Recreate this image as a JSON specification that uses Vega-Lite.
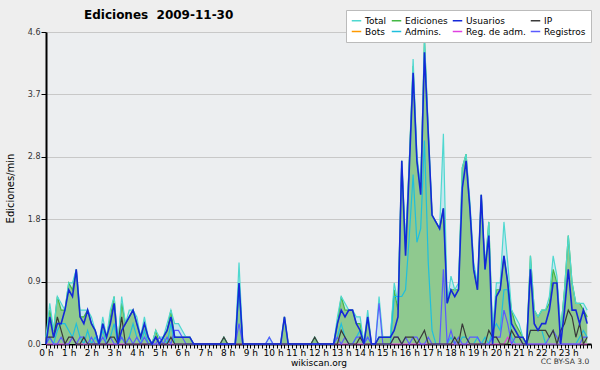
{
  "$schema": "https://vega.github.io/schema/vega-lite/v6.json",
  "width": 545,
  "height": 312,
  "autosize": {"type": "none"},
  "padding": {"left": 46, "top": 32, "right": 9, "bottom": 26},
  "background": "#eeeeee",
  "title": {"text": "Ediciones\u00a0\u00a02009-11-30", "anchor": "start", "frame": "group", "dx": 38, "offset": -12, "fontSize": 12, "font": "DejaVu Sans", "fontWeight": "bold", "color": "#000000"},
  "config": {
    "view": {"fill": "#eceef0", "stroke": null},
    "font": "DejaVu Sans",
    "axis": {"zindex": 1}
  },
  "data": {"values": [
    {"m":0,"T":0.1,"E":0.1,"U":0,"I":0.1,"A":0,"R":0,"RA":0},
    {"m":10,"T":0.6,"E":0.5,"U":0.4,"I":0.1,"A":0.1,"R":0.1,"RA":0},
    {"m":20,"T":0.2,"E":0.2,"U":0.1,"I":0.1,"A":0,"R":0,"RA":0},
    {"m":30,"T":0.7,"E":0.7,"U":0.3,"I":0.4,"A":0.2,"R":0,"RA":0},
    {"m":40,"T":0.6,"E":0.5,"U":0.3,"I":0.2,"A":0.3,"R":0.1,"RA":0},
    {"m":50,"T":0.5,"E":0.5,"U":0.5,"I":0,"A":0.3,"R":0,"RA":0},
    {"m":60,"T":0.9,"E":0.9,"U":0.8,"I":0.1,"A":0.2,"R":0,"RA":0},
    {"m":70,"T":0.9,"E":0.8,"U":0.7,"I":0.1,"A":0.1,"R":0.1,"RA":0.1},
    {"m":80,"T":1.1,"E":1.1,"U":1.1,"I":0,"A":0.3,"R":0,"RA":0},
    {"m":90,"T":0.5,"E":0.4,"U":0.4,"I":0,"A":0.1,"R":0.1,"RA":0},
    {"m":100,"T":0.5,"E":0.4,"U":0.3,"I":0.1,"A":0,"R":0.1,"RA":0},
    {"m":110,"T":0.5,"E":0.5,"U":0.5,"I":0,"A":0.2,"R":0,"RA":0},
    {"m":120,"T":0.4,"E":0.3,"U":0.3,"I":0,"A":0,"R":0.1,"RA":0},
    {"m":130,"T":0.2,"E":0.2,"U":0.2,"I":0,"A":0.1,"R":0,"RA":0},
    {"m":140,"T":0,"E":0,"U":0,"I":0,"A":0,"R":0,"RA":0},
    {"m":150,"T":0.4,"E":0.3,"U":0.3,"I":0,"A":0.2,"R":0.1,"RA":0},
    {"m":160,"T":0.1,"E":0.1,"U":0.1,"I":0,"A":0,"R":0,"RA":0},
    {"m":170,"T":0.5,"E":0.4,"U":0.3,"I":0.1,"A":0.1,"R":0.1,"RA":0},
    {"m":180,"T":0.7,"E":0.7,"U":0.6,"I":0.1,"A":0.3,"R":0,"RA":0},
    {"m":190,"T":0,"E":0,"U":0,"I":0,"A":0,"R":0,"RA":0},
    {"m":200,"T":0.7,"E":0.6,"U":0.2,"I":0.4,"A":0.1,"R":0.1,"RA":0},
    {"m":210,"T":0.3,"E":0.3,"U":0.3,"I":0,"A":0,"R":0,"RA":0},
    {"m":220,"T":0.5,"E":0.4,"U":0.4,"I":0,"A":0.1,"R":0.1,"RA":0},
    {"m":230,"T":0.5,"E":0.5,"U":0.5,"I":0,"A":0.3,"R":0,"RA":0},
    {"m":240,"T":0.4,"E":0.3,"U":0.3,"I":0,"A":0.1,"R":0.1,"RA":0},
    {"m":250,"T":0.1,"E":0.1,"U":0.1,"I":0,"A":0,"R":0,"RA":0},
    {"m":260,"T":0.4,"E":0.3,"U":0.3,"I":0,"A":0.2,"R":0.1,"RA":0},
    {"m":270,"T":0.1,"E":0.1,"U":0.1,"I":0,"A":0,"R":0,"RA":0},
    {"m":280,"T":0,"E":0,"U":0,"I":0,"A":0,"R":0,"RA":0},
    {"m":290,"T":0.2,"E":0.2,"U":0.1,"I":0.1,"A":0,"R":0,"RA":0},
    {"m":300,"T":0.1,"E":0,"U":0,"I":0,"A":0,"R":0.1,"RA":0},
    {"m":310,"T":0.1,"E":0.1,"U":0.1,"I":0,"A":0.1,"R":0,"RA":0},
    {"m":320,"T":0.3,"E":0.2,"U":0.2,"I":0,"A":0,"R":0.1,"RA":0},
    {"m":330,"T":0.5,"E":0.5,"U":0.4,"I":0.1,"A":0.3,"R":0,"RA":0},
    {"m":340,"T":0.3,"E":0.1,"U":0.1,"I":0,"A":0,"R":0.2,"RA":0},
    {"m":350,"T":0.3,"E":0.1,"U":0.1,"I":0,"A":0,"R":0.2,"RA":0},
    {"m":360,"T":0.2,"E":0.1,"U":0.1,"I":0,"A":0,"R":0.1,"RA":0},
    {"m":370,"T":0.1,"E":0.1,"U":0.1,"I":0,"A":0,"R":0,"RA":0},
    {"m":380,"T":0.1,"E":0.1,"U":0.1,"I":0,"A":0,"R":0,"RA":0},
    {"m":390,"T":0,"E":0,"U":0,"I":0,"A":0,"R":0,"RA":0},
    {"m":400,"T":0,"E":0,"U":0,"I":0,"A":0,"R":0,"RA":0},
    {"m":410,"T":0,"E":0,"U":0,"I":0,"A":0,"R":0,"RA":0},
    {"m":420,"T":0,"E":0,"U":0,"I":0,"A":0,"R":0,"RA":0},
    {"m":430,"T":0,"E":0,"U":0,"I":0,"A":0,"R":0,"RA":0},
    {"m":440,"T":0,"E":0,"U":0,"I":0,"A":0,"R":0,"RA":0},
    {"m":450,"T":0,"E":0,"U":0,"I":0,"A":0,"R":0,"RA":0},
    {"m":460,"T":0,"E":0,"U":0,"I":0,"A":0,"R":0,"RA":0},
    {"m":470,"T":0.1,"E":0.1,"U":0,"I":0.1,"A":0,"R":0,"RA":0},
    {"m":480,"T":0,"E":0,"U":0,"I":0,"A":0,"R":0,"RA":0},
    {"m":490,"T":0,"E":0,"U":0,"I":0,"A":0,"R":0,"RA":0},
    {"m":500,"T":0,"E":0,"U":0,"I":0,"A":0,"R":0,"RA":0},
    {"m":510,"T":1.2,"E":0.9,"U":0.9,"I":0,"A":0.8,"R":0.3,"RA":0},
    {"m":520,"T":0,"E":0,"U":0,"I":0,"A":0,"R":0,"RA":0},
    {"m":530,"T":0,"E":0,"U":0,"I":0,"A":0,"R":0,"RA":0},
    {"m":540,"T":0,"E":0,"U":0,"I":0,"A":0,"R":0,"RA":0},
    {"m":550,"T":0,"E":0,"U":0,"I":0,"A":0,"R":0,"RA":0},
    {"m":560,"T":0,"E":0,"U":0,"I":0,"A":0,"R":0,"RA":0},
    {"m":570,"T":0,"E":0,"U":0,"I":0,"A":0,"R":0,"RA":0},
    {"m":580,"T":0,"E":0,"U":0,"I":0,"A":0,"R":0,"RA":0},
    {"m":590,"T":0.1,"E":0,"U":0,"I":0,"A":0,"R":0.1,"RA":0},
    {"m":600,"T":0,"E":0,"U":0,"I":0,"A":0,"R":0,"RA":0},
    {"m":610,"T":0,"E":0,"U":0,"I":0,"A":0,"R":0,"RA":0},
    {"m":620,"T":0,"E":0,"U":0,"I":0,"A":0,"R":0,"RA":0},
    {"m":630,"T":0.4,"E":0.4,"U":0.4,"I":0,"A":0,"R":0,"RA":0},
    {"m":640,"T":0,"E":0,"U":0,"I":0,"A":0,"R":0,"RA":0},
    {"m":650,"T":0,"E":0,"U":0,"I":0,"A":0,"R":0,"RA":0},
    {"m":660,"T":0,"E":0,"U":0,"I":0,"A":0,"R":0,"RA":0},
    {"m":670,"T":0,"E":0,"U":0,"I":0,"A":0,"R":0,"RA":0},
    {"m":680,"T":0,"E":0,"U":0,"I":0,"A":0,"R":0,"RA":0},
    {"m":690,"T":0,"E":0,"U":0,"I":0,"A":0,"R":0,"RA":0},
    {"m":700,"T":0,"E":0,"U":0,"I":0,"A":0,"R":0,"RA":0},
    {"m":710,"T":0.1,"E":0.1,"U":0,"I":0.1,"A":0,"R":0,"RA":0},
    {"m":720,"T":0,"E":0,"U":0,"I":0,"A":0,"R":0,"RA":0},
    {"m":730,"T":0,"E":0,"U":0,"I":0,"A":0,"R":0,"RA":0},
    {"m":740,"T":0,"E":0,"U":0,"I":0,"A":0,"R":0,"RA":0},
    {"m":750,"T":0,"E":0,"U":0,"I":0,"A":0,"R":0,"RA":0},
    {"m":760,"T":0,"E":0,"U":0,"I":0,"A":0,"R":0,"RA":0},
    {"m":770,"T":0.4,"E":0.3,"U":0.3,"I":0,"A":0.1,"R":0.1,"RA":0},
    {"m":780,"T":0.7,"E":0.7,"U":0.5,"I":0.2,"A":0.3,"R":0,"RA":0},
    {"m":790,"T":0.6,"E":0.5,"U":0.4,"I":0.1,"A":0.1,"R":0.1,"RA":0},
    {"m":800,"T":0.5,"E":0.5,"U":0.5,"I":0,"A":0,"R":0,"RA":0},
    {"m":810,"T":0.5,"E":0.5,"U":0.5,"I":0,"A":0,"R":0,"RA":0},
    {"m":820,"T":0.4,"E":0.3,"U":0.3,"I":0,"A":0.1,"R":0.1,"RA":0},
    {"m":830,"T":0.4,"E":0.3,"U":0.2,"I":0.1,"A":0.2,"R":0.1,"RA":0},
    {"m":840,"T":0,"E":0,"U":0,"I":0,"A":0,"R":0,"RA":0},
    {"m":850,"T":0.5,"E":0.4,"U":0.4,"I":0,"A":0.1,"R":0.1,"RA":0},
    {"m":860,"T":0,"E":0,"U":0,"I":0,"A":0,"R":0,"RA":0},
    {"m":870,"T":0,"E":0,"U":0,"I":0,"A":0,"R":0,"RA":0},
    {"m":880,"T":0.7,"E":0.1,"U":0.1,"I":0,"A":0,"R":0.6,"RA":0},
    {"m":890,"T":0.1,"E":0.1,"U":0.1,"I":0,"A":0,"R":0,"RA":0},
    {"m":900,"T":0.1,"E":0.1,"U":0.1,"I":0,"A":0,"R":0,"RA":0},
    {"m":910,"T":0.1,"E":0.1,"U":0.1,"I":0,"A":0,"R":0,"RA":0},
    {"m":920,"T":0.9,"E":0.8,"U":0.2,"I":0.1,"A":0.7,"R":0.1,"RA":0},
    {"m":930,"T":0.6,"E":0.5,"U":0.4,"I":0.1,"A":0.7,"R":0.1,"RA":0},
    {"m":940,"T":2.7,"E":2.7,"U":2.7,"I":0,"A":0.7,"R":0,"RA":0},
    {"m":950,"T":1.5,"E":1.4,"U":1.3,"I":0.1,"A":0.8,"R":0.1,"RA":0},
    {"m":960,"T":2.7,"E":2.7,"U":2.6,"I":0.1,"A":1.6,"R":0,"RA":0},
    {"m":970,"T":4.2,"E":4.1,"U":4.0,"I":0.1,"A":2.5,"R":0.1,"RA":0},
    {"m":980,"T":2.8,"E":2.7,"U":2.7,"I":0,"A":1.5,"R":0.1,"RA":0},
    {"m":990,"T":2.3,"E":2.3,"U":2.2,"I":0.1,"A":1.7,"R":0,"RA":0},
    {"m":1000,"T":4.5,"E":4.5,"U":4.3,"I":0.2,"A":3.0,"R":0,"RA":0},
    {"m":1010,"T":3.2,"E":3.1,"U":3.1,"I":0,"A":1.2,"R":0.1,"RA":0},
    {"m":1020,"T":1.9,"E":1.9,"U":1.9,"I":0,"A":0.2,"R":0,"RA":0},
    {"m":1030,"T":1.8,"E":1.8,"U":1.8,"I":0,"A":0,"R":0,"RA":0},
    {"m":1040,"T":1.7,"E":1.7,"U":1.7,"I":0,"A":0,"R":0,"RA":0},
    {"m":1050,"T":3.1,"E":2.0,"U":2.0,"I":0,"A":0,"R":1.1,"RA":0},
    {"m":1060,"T":0.6,"E":0.6,"U":0.6,"I":0,"A":0,"R":0,"RA":0},
    {"m":1070,"T":1.0,"E":0.8,"U":0.8,"I":0,"A":0.1,"R":0.2,"RA":0},
    {"m":1080,"T":0.8,"E":0.8,"U":0.7,"I":0.1,"A":0,"R":0,"RA":0},
    {"m":1090,"T":0.9,"E":0.8,"U":0.8,"I":0,"A":0,"R":0.1,"RA":0},
    {"m":1100,"T":2.6,"E":2.6,"U":2.3,"I":0.3,"A":0.1,"R":0,"RA":0},
    {"m":1110,"T":2.8,"E":2.8,"U":2.7,"I":0.1,"A":0.1,"R":0,"RA":0},
    {"m":1120,"T":2.1,"E":2.0,"U":2.0,"I":0,"A":0,"R":0.1,"RA":0},
    {"m":1130,"T":1.2,"E":1.1,"U":1.1,"I":0,"A":0,"R":0.1,"RA":0},
    {"m":1140,"T":0.9,"E":0.8,"U":0.8,"I":0,"A":0.1,"R":0.1,"RA":0},
    {"m":1150,"T":2.2,"E":2.2,"U":2.2,"I":0,"A":0,"R":0,"RA":0},
    {"m":1160,"T":1.1,"E":1.1,"U":1.1,"I":0,"A":0.1,"R":0,"RA":0},
    {"m":1170,"T":1.8,"E":1.8,"U":1.6,"I":0.2,"A":0,"R":0,"RA":0},
    {"m":1180,"T":0.2,"E":0.1,"U":0,"I":0.1,"A":0.2,"R":0.1,"RA":0},
    {"m":1190,"T":0.9,"E":0.8,"U":0.7,"I":0.1,"A":0.3,"R":0.1,"RA":0},
    {"m":1200,"T":0.9,"E":0.8,"U":0.8,"I":0,"A":0.2,"R":0.1,"RA":0},
    {"m":1210,"T":1.8,"E":1.3,"U":1.3,"I":0,"A":0.8,"R":0.5,"RA":0},
    {"m":1220,"T":1.2,"E":0.9,"U":0.9,"I":0,"A":0.8,"R":0.3,"RA":0.1},
    {"m":1230,"T":0.5,"E":0.5,"U":0.3,"I":0.2,"A":0.1,"R":0,"RA":0},
    {"m":1240,"T":0.4,"E":0.3,"U":0.2,"I":0.1,"A":0,"R":0.1,"RA":0},
    {"m":1250,"T":0.3,"E":0.2,"U":0.1,"I":0.1,"A":0,"R":0.1,"RA":0},
    {"m":1260,"T":0.1,"E":0.1,"U":0.1,"I":0,"A":0,"R":0,"RA":0},
    {"m":1270,"T":0,"E":0,"U":0,"I":0,"A":0,"R":0,"RA":0},
    {"m":1280,"T":1.3,"E":1.3,"U":1.1,"I":0.2,"A":0.2,"R":0,"RA":0},
    {"m":1290,"T":0.5,"E":0.5,"U":0.3,"I":0.2,"A":0.2,"R":0,"RA":0},
    {"m":1300,"T":0.4,"E":0.4,"U":0.2,"I":0.2,"A":0.2,"R":0,"RA":0},
    {"m":1310,"T":0.5,"E":0.5,"U":0.3,"I":0.2,"A":0.2,"R":0,"RA":0},
    {"m":1320,"T":0.5,"E":0.5,"U":0.3,"I":0.2,"A":0,"R":0,"RA":0},
    {"m":1330,"T":0.7,"E":0.6,"U":0.5,"I":0.1,"A":0,"R":0.1,"RA":0},
    {"m":1340,"T":1.3,"E":1.1,"U":0.9,"I":0.2,"A":0,"R":0.2,"RA":0},
    {"m":1350,"T":1.0,"E":0.9,"U":0.9,"I":0,"A":0,"R":0.1,"RA":0},
    {"m":1360,"T":0.2,"E":0.2,"U":0,"I":0.2,"A":0,"R":0,"RA":0},
    {"m":1370,"T":0.8,"E":0.8,"U":0.5,"I":0.3,"A":0,"R":0,"RA":0},
    {"m":1380,"T":1.6,"E":1.6,"U":1.1,"I":0.5,"A":0,"R":0,"RA":0},
    {"m":1390,"T":0.9,"E":0.9,"U":0.5,"I":0.4,"A":0,"R":0,"RA":0},
    {"m":1400,"T":0.6,"E":0.6,"U":0.5,"I":0.1,"A":0,"R":0,"RA":0},
    {"m":1410,"T":0.6,"E":0.6,"U":0.3,"I":0.3,"A":0.1,"R":0,"RA":0},
    {"m":1420,"T":0.6,"E":0.5,"U":0.5,"I":0,"A":0.2,"R":0.1,"RA":0},
    {"m":1430,"T":0.5,"E":0.4,"U":0.3,"I":0.1,"A":0.1,"R":0.1,"RA":0}
  ]},
  "encoding": {
    "x": {
      "field": "m", "type": "quantitative",
      "scale": {"domain": [0, 1440], "nice": false, "zero": false},
      "axis": {
        "title": "wikiscan.org", "titleFontSize": 9, "titleFontWeight": "normal", "titleColor": "#000000", "titlePadding": 1,
        "values": [0,10,20,30,40,50,60,70,80,90,100,110,120,130,140,150,160,170,180,190,200,210,220,230,240,250,260,270,280,290,300,310,320,330,340,350,360,370,380,390,400,410,420,430,440,450,460,470,480,490,500,510,520,530,540,550,560,570,580,590,600,610,620,630,640,650,660,670,680,690,700,710,720,730,740,750,760,770,780,790,800,810,820,830,840,850,860,870,880,890,900,910,920,930,940,950,960,970,980,990,1000,1010,1020,1030,1040,1050,1060,1070,1080,1090,1100,1110,1120,1130,1140,1150,1160,1170,1180,1190,1200,1210,1220,1230,1240,1250,1260,1270,1280,1290,1300,1310,1320,1330,1340,1350,1360,1370,1380,1390,1400,1410,1420,1430,1440],
        "labelExpr": "datum.value % 60 == 0 && datum.value < 1440 ? (datum.value / 60) + ' h' : ''",
        "labelOverlap": false, "labelFlush": false, "labelFontSize": 9, "labelColor": "#000000", "labelPadding": 0,
        "tickSize": 4, "tickColor": "#000000", "domainColor": "#000000", "domainWidth": 2, "grid": false
      }
    }
  },
  "layer": [
    {
      "mark": {"type": "area", "fill": "#c6e6ee", "interpolate": "linear"},
      "encoding": {
        "y": {
          "field": "T", "type": "quantitative",
          "scale": {"domain": [0, 4.6], "nice": false},
          "axis": {
            "title": "Ediciones/min", "titleFontSize": 10, "titleFontWeight": "normal", "titleColor": "#000000", "titlePadding": 12,
            "values": [0,0.23,0.46,0.69,0.92,1.15,1.38,1.61,1.84,2.07,2.3,2.53,2.76,2.99,3.22,3.45,3.68,3.91,4.14,4.37,4.6],
            "labelExpr": "abs(datum.value / 0.92 - round(datum.value / 0.92)) < 0.01 ? format(datum.value, '.1f') : ''",
            "labelFontSize": 8, "labelColor": "#333333", "labelPadding": 1,
            "tickSize": 5, "tickColor": "#000000", "domainColor": "#000000", "domainWidth": 2,
            "grid": true, "gridColor": "#c8c8c8",
            "gridOpacity": {"condition": {"test": "datum.value > 0.1 && abs(datum.value / 0.92 - round(datum.value / 0.92)) < 0.01", "value": 1}, "value": 0}
          }
        }
      }
    },
    {
      "mark": {"type": "area", "fill": "#8fc98f"},
      "encoding": {"y": {"field": "E", "type": "quantitative"}}
    },
    {
      "mark": {"type": "line", "strokeWidth": 1.2},
      "encoding": {
        "y": {"field": "E", "type": "quantitative"},
        "color": {
          "datum": "Ediciones", "type": "nominal",
          "scale": {
            "domain": ["Total", "Ediciones", "Usuarios", "IP", "Bots", "Admins.", "Reg. de adm.", "Registros"],
            "range": ["#4fd8d0", "#44b844", "#1428d8", "#3a3a3a", "#ff9900", "#1fbfdd", "#e040e0", "#5a5aff"]
          },
          "legend": {
            "title": null, "orient": "none", "legendX": 300, "legendY": -22, "columns": 4, "direction": "horizontal",
            "fillColor": "#ffffff", "strokeColor": "#bbbbbb", "padding": 5,
            "labelFontSize": 9, "labelColor": "#000000", "labelOffset": 3,
            "symbolType": "stroke", "symbolSize": 90, "symbolStrokeWidth": 1.5,
            "columnPadding": 1, "rowPadding": 0
          }
        }
      }
    },
    {
      "mark": {"type": "line", "strokeWidth": 1.2},
      "encoding": {"y": {"field": "T", "type": "quantitative"}, "color": {"datum": "Total", "type": "nominal"}}
    },
    {
      "mark": {"type": "line", "strokeWidth": 1.2},
      "encoding": {"y": {"field": "A", "type": "quantitative"}, "color": {"datum": "Admins.", "type": "nominal"}}
    },
    {
      "mark": {"type": "line", "strokeWidth": 1.2},
      "encoding": {"y": {"field": "RA", "type": "quantitative"}, "color": {"datum": "Reg. de adm.", "type": "nominal"}}
    },
    {
      "mark": {"type": "line", "strokeWidth": 1.2},
      "encoding": {"y": {"field": "R", "type": "quantitative"}, "color": {"datum": "Registros", "type": "nominal"}}
    },
    {
      "mark": {"type": "line", "strokeWidth": 1.2},
      "encoding": {"y": {"field": "I", "type": "quantitative"}, "color": {"datum": "IP", "type": "nominal"}}
    },
    {
      "mark": {"type": "line", "strokeWidth": 1.6},
      "encoding": {"y": {"field": "U", "type": "quantitative"}, "color": {"datum": "Usuarios", "type": "nominal"}}
    },
    {
      "transform": [{"aggregate": [{"op": "max", "field": "m", "as": "m"}]}],
      "mark": {"type": "text", "text": "CC BY-SA 3.0", "align": "right", "baseline": "middle", "dx": 2, "dy": 18, "fontSize": 7.5, "color": "#333333"},
      "encoding": {
        "y": {"datum": 0, "type": "quantitative"}
      }
    }
  ]
}
